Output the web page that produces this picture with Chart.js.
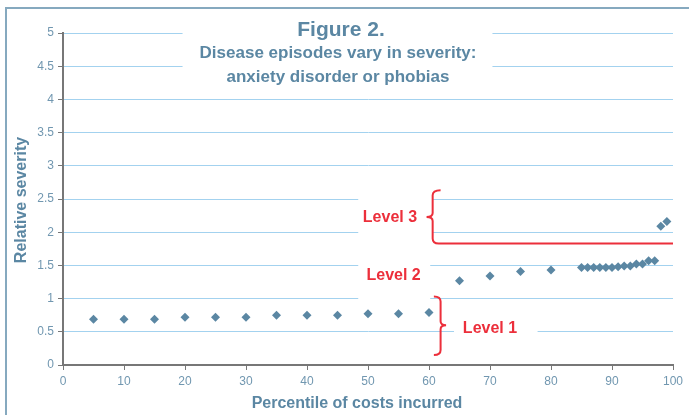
<!DOCTYPE html>
<html>
<head>
<meta charset="utf-8">
<script src="https://cdn.jsdelivr.net/npm/chart.js@4.4.0/dist/chart.umd.min.js"></script>
<style>
  html, body { margin: 0; padding: 0; background: #fff; }
  #wrap { width: 689px; height: 415px; position: relative; }
</style>
</head>
<body>
<div id="wrap"><canvas id="severityChart" width="689" height="415"></canvas></div>
<script>
// Percentile of costs incurred (x) and relative severity (y)
const percentiles = [5, 10, 15, 20, 25, 30, 35, 40, 45, 50, 55, 60,
    65, 70, 75, 80,
    85, 86, 87, 88, 89, 90, 91, 92, 93, 94, 95, 96, 97,
    98, 99]
const severity = [0.69, 0.69, 0.69, 0.72, 0.72, 0.72, 0.75, 0.75, 0.75, 0.77, 0.77, 0.79,
    1.27, 1.34, 1.41, 1.43,
    1.47, 1.47, 1.47, 1.47, 1.47, 1.47, 1.48, 1.49, 1.49, 1.52, 1.52, 1.57, 1.57,
    2.09, 2.16]

const titleLines = ['Figure 2.', 'Disease episodes vary in severity:', 'anxiety disorder or phobias']
const levelLabels = ['Level 3', 'Level 2', 'Level 1']

const blue = '#5b87a3'
const red = '#ec2f3b'

// white boxes that sit over the gridlines (data units: x1, x2, yTop, yBottom)
const maskBoxes = [
    [19.6, 70.4, 5.2, 4.3],
    [48.4, 60.5, 2.6, 1.9],
    [48.4, 60.2, 1.6, 0.95],
    [64.1, 77.8, 0.8, 0.35]
]

let points = []
for (let i = 0; i < percentiles.length; i++) {
    points.push({x: percentiles[i], y: severity[i]})
}

const annotations = {
    id: 'annotations',
    beforeDraw(chart) {
        const ctx = chart.ctx
        ctx.save()
        ctx.strokeStyle = '#86a9bf'
        ctx.lineWidth = 2
        ctx.strokeRect(6, 8, chart.width + 20, chart.height + 20)
        ctx.restore()
    },
    beforeDatasetsDraw(chart) {
        const ctx = chart.ctx
        const xs = chart.scales.x
        const ys = chart.scales.y
        ctx.save()
        ctx.fillStyle = '#fff'
        maskBoxes.forEach(b => {
            let x1 = xs.getPixelForValue(b[0])
            let x2 = xs.getPixelForValue(b[1])
            let y1 = ys.getPixelForValue(b[2])
            let y2 = ys.getPixelForValue(b[3])
            ctx.fillRect(x1, y1, x2 - x1, y2 - y1)
        })
        ctx.restore()
    },
    afterDatasetsDraw(chart) {
        const ctx = chart.ctx
        const xs = chart.scales.x
        const ys = chart.scales.y
        const px = v => xs.getPixelForValue(v)
        const py = v => ys.getPixelForValue(v)
        ctx.save()

        // Titles
        ctx.fillStyle = blue
        ctx.textAlign = 'center'
        ctx.textBaseline = 'middle'
        ctx.font = 'bold 21px "Liberation Sans", Arial, sans-serif'
        ctx.fillText(titleLines[0], 341, 30)
        ctx.font = 'bold 17px "Liberation Sans", Arial, sans-serif'
        ctx.fillText(titleLines[1], 338, 53)
        ctx.fillText(titleLines[2], 338, 77)

        // Axis titles
        ctx.font = 'bold 16px "Liberation Sans", Arial, sans-serif'
        ctx.fillText('Percentile of costs incurred', 357, 404)
        ctx.save()
        ctx.translate(22, 200)
        ctx.rotate(-Math.PI / 2)
        ctx.fillText('Relative severity', 0, 0)
        ctx.restore()

        // Level braces
        ctx.strokeStyle = red
        ctx.lineWidth = 2
        // Level 3 brace + boundary line
        let bx = px(60.6), tip = px(59.6), top = py(2.63), mid = py(2.23), lineY = py(1.83)
        ctx.beginPath()
        ctx.moveTo(px(61.9), top)
        ctx.quadraticCurveTo(bx, top, bx, top + 5)
        ctx.lineTo(bx, mid - 4)
        ctx.quadraticCurveTo(bx, mid, tip, mid)
        ctx.quadraticCurveTo(bx, mid, bx, mid + 4)
        ctx.lineTo(bx, lineY - 5)
        ctx.quadraticCurveTo(bx, lineY, bx + 6, lineY)
        ctx.lineTo(px(100), lineY)
        ctx.stroke()

        // Level 1 brace
        bx = px(61.9); tip = px(62.8); top = py(1.03); mid = py(0.60); let bot = py(0.15)
        ctx.beginPath()
        ctx.moveTo(px(60.8), top)
        ctx.quadraticCurveTo(bx, top, bx, top + 5)
        ctx.lineTo(bx, mid - 4)
        ctx.quadraticCurveTo(bx, mid, tip, mid)
        ctx.quadraticCurveTo(bx, mid, bx, mid + 4)
        ctx.lineTo(bx, bot - 5)
        ctx.quadraticCurveTo(bx, bot, px(60.8), bot)
        ctx.stroke()

        // Level labels
        ctx.fillStyle = red
        ctx.font = 'bold 16px "Liberation Sans", Arial, sans-serif'
        ctx.fillText(levelLabels[0], px(53.6), py(2.22))
        ctx.fillText(levelLabels[1], px(54.2), py(1.35))
        ctx.fillText(levelLabels[2], px(70.0), py(0.55))
        ctx.restore()
    }
}

const config = {
    type: 'scatter',
    data: {
        datasets: [{
            label: 'Relative severity',
            data: points,
            pointStyle: 'rectRot',
            pointRadius: 4.5,
            pointHoverRadius: 4.5,
            backgroundColor: blue,
            borderColor: blue,
            borderWidth: 0
        }]
    },
    options: {
        responsive: false,
        animation: false,
        layout: { padding: { left: 0, top: 33, right: 16, bottom: 0 } },
        plugins: {
            legend: { display: false },
            tooltip: { enabled: false }
        },
        scales: {
            x: {
                type: 'linear',
                min: 0,
                max: 100,
                afterFit: scale => { scale.height = 50 },
                ticks: {
                    stepSize: 10,
                    color: '#7197b0',
                    padding: 4,
                    font: { size: 12, family: '"Liberation Sans", Arial, sans-serif' }
                },
                grid: { drawOnChartArea: false, tickLength: 5, tickColor: '#777', tickWidth: 1 },
                border: { color: '#777', width: 2 }
            },
            y: {
                type: 'linear',
                min: 0,
                max: 5,
                afterFit: scale => { scale.width = 63 },
                ticks: {
                    stepSize: 0.5,
                    color: '#7197b0',
                    padding: 4,
                    font: { size: 12, family: '"Liberation Sans", Arial, sans-serif' },
                    callback: value => String(value)
                },
                grid: { color: '#a3d2ef', lineWidth: 1, tickLength: 5, tickColor: '#777', tickWidth: 1 },
                border: { color: '#777', width: 2 }
            }
        }
    },
    plugins: [annotations]
}

const severityChart = new Chart(document.getElementById('severityChart'), config)
</script>
</body>
</html>
